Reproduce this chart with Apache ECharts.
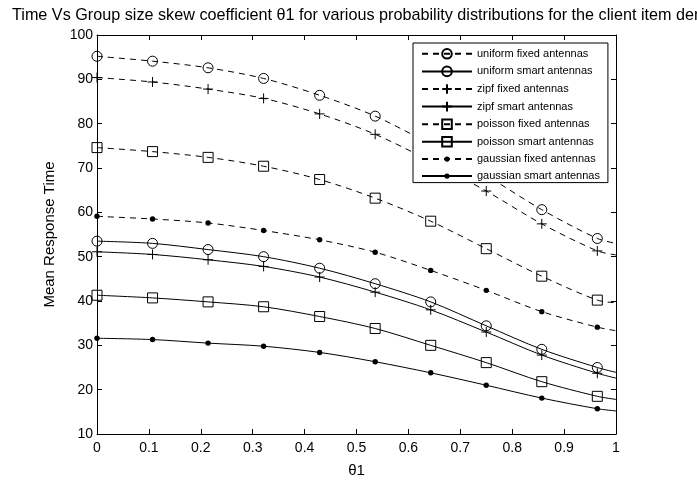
<!DOCTYPE html>
<html>
<head>
<meta charset="utf-8">
<script src="https://cdn.jsdelivr.net/npm/echarts@6/dist/echarts.min.js"></script>
<style>
  html, body { margin: 0; padding: 0; background: #fff; }
  #chart { width: 697px; height: 483px; }
</style>
</head>
<body>
<div id="chart"></div>
<script>
// theta1 values where the markers sit (last point at 1 has no marker)
const theta = [0, 0.107, 0.214, 0.321, 0.429, 0.536, 0.643, 0.75, 0.857, 0.964, 1];

const uniformFixed  = [95.2, 94.1, 92.6, 90.2, 86.4, 81.7, 75.3, 68.3, 60.6, 54.1, 53.0];
const uniformSmart  = [53.5, 53.0, 51.6, 50.0, 47.4, 43.9, 39.8, 34.4, 29.1, 25.0, 23.9];
const zipfFixed     = [90.4, 89.4, 87.8, 85.7, 82.2, 77.6, 71.5, 64.8, 57.4, 51.3, 50.4];
const zipfSmart     = [51.1, 50.5, 49.3, 47.8, 45.4, 42.0, 38.0, 33.0, 27.8, 23.7, 22.6];
const poissonFixed  = [74.6, 73.7, 72.4, 70.4, 67.4, 63.2, 58.0, 51.8, 45.6, 40.2, 39.6];
const poissonSmart  = [41.3, 40.7, 39.8, 38.7, 36.5, 33.8, 30.0, 26.1, 21.8, 18.5, 17.8];
const gaussianFixed = [59.1, 58.5, 57.6, 55.9, 53.8, 51.0, 46.9, 42.4, 37.6, 34.1, 33.3];
const gaussianSmart = [31.6, 31.3, 30.5, 29.8, 28.4, 26.3, 23.8, 21.0, 18.1, 15.7, 15.2];

const seriesNames = [
  'uniform fixed antennas', 'uniform smart antennas',
  'zipf fixed antennas', 'zipf smart antennas',
  'poisson fixed antennas', 'poisson smart antennas',
  'gaussian fixed antennas', 'gaussian smart antennas'
];
const seriesData = [uniformFixed, uniformSmart, zipfFixed, zipfSmart,
  poissonFixed, poissonSmart, gaussianFixed, gaussianSmart];

const xTicks = [0, 0.1, 0.2, 0.3, 0.4, 0.5, 0.6, 0.7, 0.8, 0.9, 1];
const yTicks = [10, 20, 30, 40, 50, 60, 70, 80, 90, 100];

// marker styles, matlab-like
const plusPath = 'path://M0,5 L10,5 M5,0 L5,10';
// small dot inside a 10x10 frame so the legend icon stays small too
const dotPath = 'path://M0,0 M10,10 M7.7,5 A2.7,2.7 0 1 1 2.3,5 A2.7,2.7 0 1 1 7.7,5 Z';
const markers = {
  uniform:  { symbol: 'circle', size: 10, fill: 'transparent', border: 1 },
  zipf:     { symbol: plusPath, size: 10, fill: 'transparent', border: 1 },
  poisson:  { symbol: 'rect', size: 10, fill: 'transparent', border: 1 },
  gaussian: { symbol: dotPath, size: 10, fill: '#000', border: 0 }
};

function buildSeries(name, values) {
  const m = markers[name.split(' ')[0]];
  const dashed = name.indexOf('fixed') > -1;
  const data = values.map((v, i) => {
    if (i === values.length - 1) return { value: [theta[i], v], symbol: 'none' };
    return [theta[i], v];
  });
  return {
    name: name,
    type: 'line',
    smooth: 0.3,
    symbol: m.symbol,
    symbolSize: m.size,
    showAllSymbol: true,
    animation: false,
    lineStyle: { color: '#000', width: 1, type: dashed ? [6, 5] : 'solid' },
    itemStyle: { color: m.fill, borderColor: '#000', borderWidth: m.border },
    emphasis: { disabled: true },
    data: data
  };
}

const axisCommon = {
  axisLine: { show: true, onZero: false, lineStyle: { color: '#000', width: 1 } },
  axisTick: { show: true, inside: true, length: 5, lineStyle: { color: '#000' } },
  splitLine: { show: false }
};

const chart = echarts.init(document.getElementById('chart'));
chart.setOption({
  backgroundColor: '#fff',
  textStyle: { fontFamily: 'Liberation Sans, Arial, sans-serif' },
  title: {
    text: 'Time Vs Group size skew coefficient \u03b81 for various probability distributions for the client item demand',
    left: 12,
    top: 8,
    padding: 0,
    textStyle: { fontSize: 16.2, fontWeight: 'normal', color: '#000', fontFamily: 'Liberation Sans, Arial, sans-serif' }
  },
  legend: {
    orient: 'vertical',
    left: 413,
    top: 43,
    padding: [5, 8, 1, 8],
    itemGap: 6,
    itemWidth: 50,
    itemHeight: 12,
    backgroundColor: '#fff',
    borderColor: '#000',
    borderWidth: 1,
    borderRadius: 0,
    textStyle: { fontSize: 11, color: '#000' },
    data: seriesNames
  },
  grid: { left: 97, right: 81, top: 35, bottom: 43, containLabel: false },
  xAxis: [
    Object.assign({
      type: 'value', min: xTicks[0], max: xTicks[xTicks.length - 1], interval: 0.1,
      position: 'bottom',
      name: '\u03b81', nameLocation: 'middle', nameGap: 29,
      nameTextStyle: { fontSize: 15, color: '#000' },
      axisLabel: { color: '#000', fontSize: 14, margin: 7 }
    }, axisCommon),
    Object.assign({
      type: 'value', min: xTicks[0], max: xTicks[xTicks.length - 1], interval: 0.1,
      position: 'top', axisLabel: { show: false }
    }, axisCommon)
  ],
  yAxis: [
    Object.assign({
      type: 'value', min: yTicks[0], max: yTicks[yTicks.length - 1], interval: 10,
      position: 'left',
      name: 'Mean Response Time', nameLocation: 'middle', nameGap: 40,
      nameTextStyle: { fontSize: 15, color: '#000' },
      axisLabel: { color: '#000', fontSize: 14, margin: 4 }
    }, axisCommon),
    Object.assign({
      type: 'value', min: yTicks[0], max: yTicks[yTicks.length - 1], interval: 10,
      position: 'right', axisLabel: { show: false }
    }, axisCommon)
  ],
  series: seriesNames.map((n, i) => buildSeries(n, seriesData[i]))
});
</script>
</body>
</html>
